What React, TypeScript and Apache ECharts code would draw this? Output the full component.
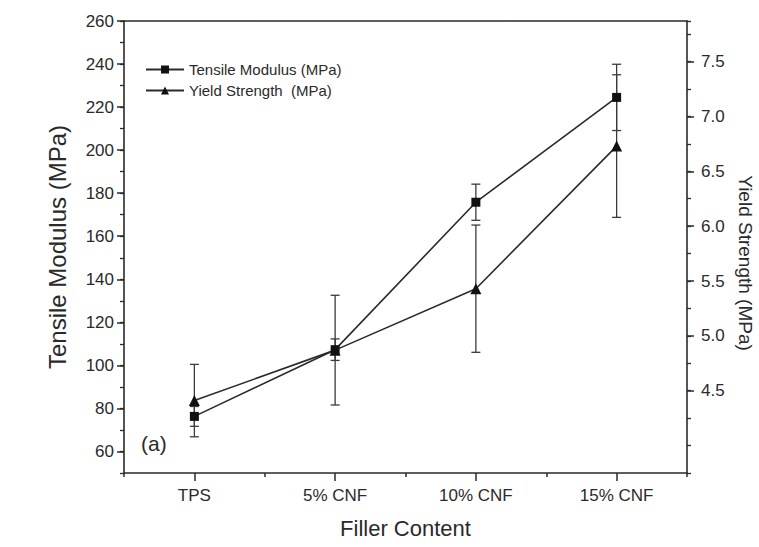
import React, { useEffect, useRef } from "react";
import * as echarts from "echarts";

const categories = ["TPS", "5% CNF", "10% CNF", "15% CNF"];
const modulus = [76.3, 107.3, 175.8, 224.5];
const modulusErr = [4.6, 5.0, 8.4, 15.4];
const yieldStrength = [4.41, 4.87, 5.43, 6.73];
const yieldErr = [0.33, 0.5, 0.58, 0.65];

const leftTickValues = [60, 80, 100, 120, 140, 160, 180, 200, 220, 240, 260];
const rightTickValues = [4.5, 5.0, 5.5, 6.0, 6.5, 7.0, 7.5];

const FONT = "Liberation Sans, Arial, sans-serif";
const INK = "#2a2a2a";

export default function App() {
  const ref = useRef<HTMLDivElement>(null);
  useEffect(() => {
    document.body.style.margin = "0";
    if (!ref.current) return;
    const chart = echarts.init(ref.current, undefined, { renderer: "svg" });

    const errStyle = { stroke: "#3a3a3a", lineWidth: 1.3 };
    const renderErr = (params: any, api: any) => {
      const x = api.value(0);
      const top = api.coord([x, api.value(2)]);
      const bot = api.coord([x, api.value(1)]);
      const hw = 4.5;
      return {
        type: "group",
        children: [
          { type: "line", shape: { x1: top[0], y1: top[1], x2: bot[0], y2: bot[1] }, style: errStyle },
          { type: "line", shape: { x1: top[0] - hw, y1: top[1], x2: top[0] + hw, y2: top[1] }, style: errStyle },
          { type: "line", shape: { x1: bot[0] - hw, y1: bot[1], x2: bot[0] + hw, y2: bot[1] }, style: errStyle },
        ],
      };
    };

    const axisLine = { show: true, lineStyle: { color: INK, width: 1.6 } };
    const labelStyle = { color: INK, fontSize: 17, fontFamily: FONT };

    chart.setOption({
      animation: false,
      backgroundColor: "#ffffff",
      grid: { left: 124, right: 72, top: 21, bottom: 74, containLabel: false },
      legend: {
        orient: "vertical",
        left: 140,
        top: 57,
        itemWidth: 38,
        itemHeight: 10,
        itemGap: 6,
        textStyle: { color: INK, fontSize: 15, fontFamily: FONT },
        data: ["Tensile Modulus (MPa)", "Yield Strength  (MPa)"],
      },
      graphic: [
        {
          type: "text",
          left: 141,
          top: 433,
          style: { text: "(a)", fontSize: 21, fill: INK, fontFamily: FONT },
        },
        {
          type: "text",
          x: 745,
          y: 263,
          rotation: -Math.PI / 2,
          style: {
            text: "Yield Strength (MPa)",
            fontSize: 19,
            fill: INK,
            fontFamily: FONT,
            align: "center",
            verticalAlign: "middle",
          },
        },
      ],
      xAxis: [
        {
          type: "category",
          data: categories,
          position: "bottom",
          boundaryGap: true,
          axisLine,
          axisTick: { show: true, alignWithLabel: true, length: 8, lineStyle: { color: INK, width: 1.5 } },
          axisLabel: { ...labelStyle, margin: 14 },
          splitLine: { show: false },
          name: "Filler Content",
          nameLocation: "middle",
          nameGap: 44,
          nameTextStyle: { color: INK, fontSize: 22, fontFamily: FONT },
        },
        {
          type: "category",
          data: categories,
          position: "bottom",
          boundaryGap: true,
          axisLine: { show: false },
          axisTick: { show: true, length: 4, lineStyle: { color: INK, width: 1.5 } },
          axisLabel: { show: false },
          splitLine: { show: false },
        },
        {
          type: "category",
          data: categories,
          position: "top",
          boundaryGap: true,
          axisLine,
          axisTick: { show: false },
          axisLabel: { show: false },
          splitLine: { show: false },
        },
      ],
      yAxis: [
        {
          type: "value",
          position: "left",
          min: 50,
          max: 260,
          axisLine,
          axisTick: { show: true, length: 7, customValues: leftTickValues, lineStyle: { color: INK, width: 1.5 } },
          axisLabel: { ...labelStyle, margin: 10, customValues: leftTickValues },
          splitLine: { show: false },
          name: "Tensile Modulus (MPa)",
          nameLocation: "middle",
          nameGap: 55,
          nameTextStyle: { color: INK, fontSize: 24, fontFamily: FONT },
        },
        {
          type: "value",
          position: "right",
          min: 3.75,
          max: 7.87,
          axisLine,
          axisTick: { show: true, length: 7, customValues: rightTickValues, lineStyle: { color: INK, width: 1.5 } },
          axisLabel: {
            ...labelStyle,
            margin: 14,
            customValues: rightTickValues,
            formatter: (v: number) => v.toFixed(1),
          },
          splitLine: { show: false },
        },
        {
          type: "value",
          position: "left",
          min: 50,
          max: 260,
          interval: 10,
          axisLine: { show: false },
          axisTick: { show: true, length: 4, lineStyle: { color: INK, width: 1.3 } },
          axisLabel: { show: false },
          splitLine: { show: false },
        },
        {
          type: "value",
          position: "right",
          min: 3.75,
          max: 7.87,
          interval: 0.25,
          axisLine: { show: false },
          axisTick: { show: true, length: 4, lineStyle: { color: INK, width: 1.3 } },
          axisLabel: { show: false },
          splitLine: { show: false },
        },
      ],
      series: [
        {
          type: "custom",
          name: "modErr",
          xAxisIndex: 0,
          yAxisIndex: 0,
          renderItem: renderErr,
          encode: { x: 0, y: [1, 2] },
          data: categories.map((_, i) => [i, modulus[i] - modulusErr[i], modulus[i] + modulusErr[i]]),
          z: 1,
        },
        {
          type: "custom",
          name: "yieldErr",
          xAxisIndex: 0,
          yAxisIndex: 1,
          renderItem: renderErr,
          encode: { x: 0, y: [1, 2] },
          data: categories.map((_, i) => [i, yieldStrength[i] - yieldErr[i], yieldStrength[i] + yieldErr[i]]),
          z: 1,
        },
        {
          type: "line",
          name: "Tensile Modulus (MPa)",
          xAxisIndex: 0,
          yAxisIndex: 0,
          data: modulus,
          symbol: "rect",
          symbolSize: 9,
          lineStyle: { color: "#2b2b2b", width: 1.6 },
          itemStyle: { color: "#111111" },
          z: 3,
        },
        {
          type: "line",
          name: "Yield Strength  (MPa)",
          xAxisIndex: 0,
          yAxisIndex: 1,
          data: yieldStrength,
          symbol: "triangle",
          symbolSize: 11,
          lineStyle: { color: "#2b2b2b", width: 1.6 },
          itemStyle: { color: "#111111" },
          z: 3,
        },
      ],
    });
    return () => chart.dispose();
  }, []);
  return <div ref={ref} style={{ width: 759, height: 547 }} />;
}
